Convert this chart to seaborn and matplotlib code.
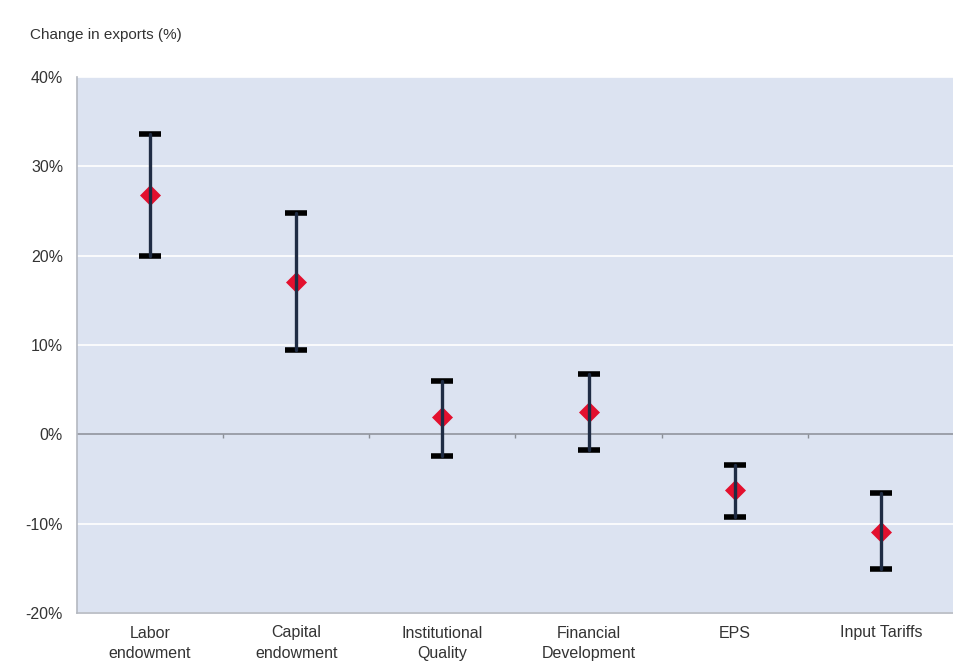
import numpy as np
import pandas as pd
import matplotlib
matplotlib.use('Agg')
import matplotlib.pyplot as plt
import seaborn as sns

# values (percent)
categories = ['Labor\nendowment', 'Capital\nendowment', 'Institutional\nQuality',
              'Financial\nDevelopment', 'EPS', 'Input Tariffs']
low = [20.0, 9.4, -2.4, -1.8, -9.2, -15.1]
mid = [26.8, 17.1, 1.9, 2.5, -6.2, -10.9]
high = [33.6, 24.8, 6.0, 6.7, -3.4, -6.6]
yticks = [-20, -10, 0, 10, 20, 30, 40]

# long form: median of (low, mid, high) is mid, full range is low..high
df = pd.DataFrame({
    'cat': np.repeat(categories, 3),
    'val': np.ravel(np.column_stack([low, mid, high])),
})

sns.set_style('white')
plt.rcParams['font.family'] = ['Liberation Sans', 'DejaVu Sans']

fig = plt.figure(figsize=(9.54, 6.68), dpi=100)
ax = fig.add_axes([77/954, 55/668, 1 - 77/954, (613-77)/668])
ax.set_facecolor('#dce3f1')

for y in yticks:
    if y != 0:
        ax.axhline(y, color='white', lw=1.2, zorder=0)
ax.axhline(0, color='#8a8e96', lw=1.1, zorder=1)
ax.vlines(np.arange(0.5, len(categories) - 1, 1), -0.45, 0, color='#8a8e96', lw=1, zorder=1)

sns.pointplot(data=df, x='cat', y='val', order=categories, estimator='median',
              errorbar=('pi', 100), capsize=0, marker='D', linestyle='none',
              color='#e3102e', markersize=10, markeredgewidth=0.5,
              err_kws={'color': '#1f2c44', 'linewidth': 2.4}, ax=ax, zorder=3)

# caps: thicker, black, square ends
pos = np.arange(len(categories))
ax.hlines(low, pos - 0.075, pos + 0.075, color='black', lw=4, capstyle='butt', zorder=2.5)
ax.hlines(high, pos - 0.075, pos + 0.075, color='black', lw=4, capstyle='butt', zorder=2.5)

ax.set_xlim(-0.5, len(categories) - 0.5)
ax.set_ylim(-20, 40)
ax.set_yticks(yticks)
ax.set_yticklabels([f'{y}%' for y in yticks])
ax.set_xlabel('')
ax.set_ylabel('')
ax.tick_params(axis='both', length=0, labelsize=11.5, colors='#333333')
ax.tick_params(axis='y', pad=10)
ax.tick_params(axis='x', pad=9)
for t in ax.get_xticklabels():
    t.set_linespacing(1.45)
for s in ['top', 'right']:
    ax.spines[s].set_visible(False)
for s in ['left', 'bottom']:
    ax.spines[s].set_color('#b4b8c0')
    ax.spines[s].set_linewidth(1.2)

fig.text(30/954, 1 - 35/668, 'Change in exports (%)', fontsize=11,
         color='#333333', va='center', ha='left')

fig.savefig('out.png', dpi=100)
